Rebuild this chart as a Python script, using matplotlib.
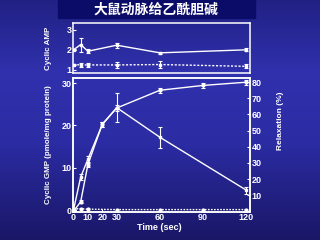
import numpy as np
import matplotlib
matplotlib.use("Agg")
import matplotlib.pyplot as plt
from matplotlib.patches import Rectangle

plt.rcParams['font.family'] = ['Liberation Sans', 'DejaVu Sans']

title = "大鼠动脉给乙酰胆碱"

# Cyclic AMP (upper panel)
t_amp = [0, 5, 10, 30, 60, 120]
amp_ach = [2.0, 2.26, 1.93, 2.23, 1.85, 2.0]
amp_ach_err = [0.03, 0.35, 0.1, 0.12, 0.04, 0.08]
amp_ctrl = [1.27, 1.25, 1.25, 1.25, 1.27, 1.18]
amp_ctrl_err = [0.04, 0.12, 0.12, 0.15, 0.18, 0.1]

# Cyclic GMP (lower panel, left axis)
t_gmp = [0, 5, 10, 20, 30, 60, 120]
gmp_ach = [0, 7.8, 12, 20.2, 24.2, 17.2, 4.7]
gmp_ach_err = [0, 0.8, 0.8, 0.5, 3.5, 2.5, 0.8]
t_ctrl = [0, 5, 10, 30, 60, 90, 120]
gmp_ctrl = [0.3, 0.3, 0.2, 0.1, 0.1, 0.1, 0.1]

# Relaxation (lower panel, right axis)
t_rel = [0, 5, 10, 20, 30, 60, 90, 120]
relax = [0, 6, 29, 54, 64, 75, 78, 80]
relax_err = [0, 1, 1.5, 1.5, 2, 1.5, 1.5, 1.5]

x_ticks = [0, 10, 20, 30, 60, 90, 120]
gmp_ticks = [0, 10, 20, 30]
amp_ticks = [1, 2, 3]
relax_ticks = [10, 20, 30, 40, 50, 60, 70, 80]

W = 'white'
fig = plt.figure(figsize=(3.2, 2.4), dpi=100)

# backdrop gradient
bg = fig.add_axes([0, 0, 1, 1], zorder=-10)
stops = np.array([[0.13, 0.13, 0.52], [0.19, 0.19, 0.68], [0.17, 0.17, 0.64], [0.10, 0.09, 0.40]])
pos = np.array([0.0, 0.3, 0.6, 1.0])
yy = np.linspace(0, 1, 240)
grad = np.stack([np.interp(yy, pos, stops[:, c]) for c in range(3)], axis=-1)
img = np.repeat(grad[:, None, :], 320, axis=1)
bg.imshow(img, aspect='auto', extent=[0, 1, 0, 1], origin='upper')
bg.set_xlim(0, 1); bg.set_ylim(0, 1)
bg.axis('off')
bg.add_patch(Rectangle((58/320, 1-18/240), 197/320, 18/240, color='#0b0b68', zorder=2))
bg.text(156/320, 1-9.5/240, title, color=W, fontsize=10, fontweight='bold',
        ha='center', va='center', family=['Noto Sans CJK SC', 'DejaVu Sans'], zorder=3)

def style(ax):
    ax.set_facecolor('none')
    for s in ax.spines.values():
        s.set_color(W)
        s.set_linewidth(1.1)
    ax.tick_params(colors=W, labelcolor=W, labelsize=6.5, width=0.8, length=2, pad=1,
                   direction='in')
    for lab in ax.get_xticklabels() + ax.get_yticklabels():
        lab.set_fontweight('bold')

ekw = dict(color=W, lw=1.0, elinewidth=0.8, capsize=1.5, capthick=0.8)

# upper panel
ax1 = fig.add_axes([73/320, 1-73/240, 177/320, 50/240])
ax1.errorbar(t_amp, amp_ach, yerr=amp_ach_err, marker='s', ms=2, **ekw)
ax1.errorbar(t_amp, amp_ctrl, yerr=amp_ctrl_err, marker='s', ms=2, ls=(0, (1.5, 1.2)), **ekw)
ax1.set_xlim(-0.35, 122.6)
ax1.set_ylim(0.85, 3.33)
ax1.set_yticks(amp_ticks)
ax1.set_xticks([])
style(ax1)
ax1.set_ylabel('Cyclic AMP', color=W, fontsize=5.8, fontweight='bold')
ax1.yaxis.set_label_coords(-0.12, 0.5)

# lower panel
ax2 = fig.add_axes([73/320, 1-212/240, 177/320, 134/240])
ax3 = ax2.twinx()
ax2.errorbar(t_gmp, gmp_ach, yerr=gmp_ach_err, marker='s', ms=2, **ekw)
ax2.plot(t_ctrl, gmp_ctrl, color=W, lw=1.0, ls=(0, (1.2, 1.0)), marker='o', ms=2)
ax3.errorbar(t_rel, relax, yerr=relax_err, marker='o', ms=2, **ekw)
ax2.set_xlim(-0.35, 122.6)
ax2.set_ylim(-0.47, 31.2)
ax3.set_ylim(-0.4, 82.6)
ax2.set_xticks(x_ticks)
ax2.set_yticks(gmp_ticks)
ax3.set_yticks(relax_ticks)
style(ax2)
style(ax3)
ax2.set_ylabel('Cyclic GMP (pmole/mg protein)', color=W, fontsize=5.8, fontweight='bold')
ax2.yaxis.set_label_coords(-0.12, 0.5)
ax3.set_ylabel('Relaxation (%)', color=W, fontsize=6, fontweight='bold')
ax3.yaxis.set_label_coords(1.15, 0.68)
ax2.set_xlabel('Time (sec)', color=W, fontsize=6.5, fontweight='bold')
ax2.xaxis.set_label_coords(0.49, -0.085)

fig.savefig('out.png', dpi=100)
